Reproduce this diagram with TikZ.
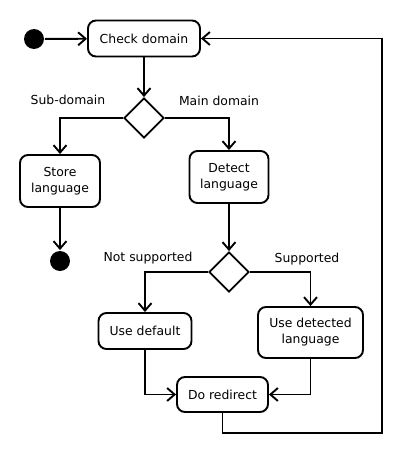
\documentclass[tikz,border=0pt]{standalone}
\usepackage{fontspec}
\setmainfont{DejaVu Sans}
\usetikzlibrary{arrows.meta, positioning, shapes.geometric}

\begin{document}
\begin{tikzpicture}[x=1pt, y=-1pt, line width=1.9pt,
  font=\fontsize{12.4}{16}\selectfont,
  act/.style={draw, rounded corners=8pt, align=center, inner sep=2pt},
  choice/.style={draw, diamond, minimum width=40pt, minimum height=40pt, inner sep=0pt},
  dot/.style={circle, fill=black, minimum size=20pt, inner sep=0pt},
  flow/.style={-{Straight Barb[length=7.5pt, width=13pt]}},
  lbl/.style={inner sep=0pt}]
  \useasboundingbox (0,0) rectangle (400,450);
  % nodes
  \node[dot] (start) at (34,39) {};
  \node[act, minimum width=112pt, minimum height=36pt] (check) at (144,38.5) {Check domain};
  \node[choice] (dom) at (144,118) {};
  \node[act, minimum width=80pt, minimum height=52pt] (store) at (60,181) {Store\\language};
  \node[act, minimum width=79pt, minimum height=52pt] (detect) at (229,177) {Detect\\language};
  \node[dot] (stop) at (60,261) {};
  \node[choice] (lang) at (229,272) {};
  \node[act, minimum width=93pt, minimum height=36pt] (usedef) at (145,331) {Use default};
  \node[act, minimum width=105pt, minimum height=51pt] (usedet) at (310.5,332.5) {Use detected\\language};
  \node[act, minimum width=91pt, minimum height=35pt] (redir) at (222.5,394.5) {Do redirect};
  \coordinate (back) at (382,433);
  % guard labels
  \node[lbl] (sub) at (68,100) {Sub-domain};
  \node[lbl] (main) at (219,101) {Main domain};
  \node[lbl] (nosup) at (148,258) {Not supported};
  \node[lbl] (sup) at (307,259) {Supported};
  % connectors
  \draw[flow] (start) -- (check);
  \draw[flow] (check) -- (dom);
  \draw[flow] (dom.west) -| (store.north);
  \draw[flow] (dom.east) -| (detect.north);
  \draw[flow] (store) -- (stop);
  \draw[flow] (detect) -- (lang);
  \draw[flow] (lang.west) -| (usedef.north);
  \draw[flow] (lang.east) -| (usedet.north);
  \draw[flow] (usedef.south) |- (redir.west);
  \draw[flow] (usedet.south) |- (redir.east);
  \draw[flow] (redir.south) |- (back) |- (check.east);
\end{tikzpicture}
\end{document}
